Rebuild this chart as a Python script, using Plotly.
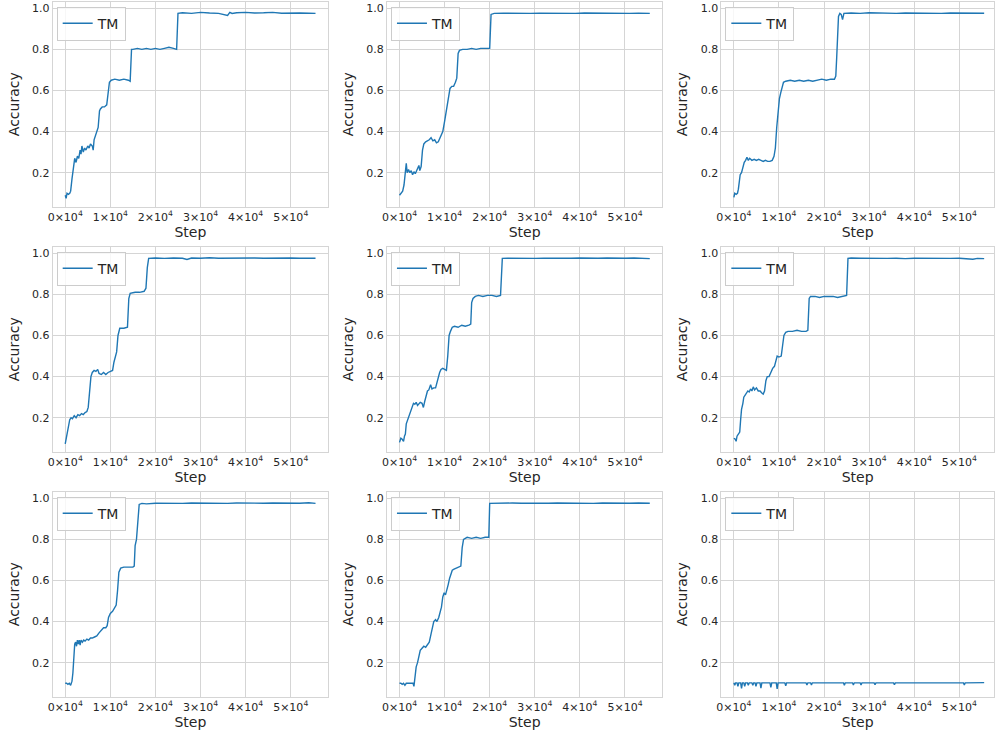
import plotly.graph_objects as go

# ---------------- data ----------------
series_name = "TM"
x_tick_vals = [0, 10000, 20000, 30000, 40000, 50000]
x_tick_text = ["0×10<sup>4</sup>", "1×10<sup>4</sup>", "2×10<sup>4</sup>",
               "3×10<sup>4</sup>", "4×10<sup>4</sup>", "5×10<sup>4</sup>"]
y_tick_vals = [0.2, 0.4, 0.6, 0.8, 1.0]
x_title = "Step"
y_title = "Accuracy"

run1 = [(0, 0.09), (200, 0.075), (400, 0.10), (700, 0.095), (1000, 0.10), (1200, 0.11), (1500, 0.17),
        (1800, 0.22), (2100, 0.27), (2400, 0.25), (2700, 0.28), (3000, 0.27), (3300, 0.31), (3500, 0.29),
        (3700, 0.33), (4000, 0.30), (4300, 0.32), (4600, 0.31), (5000, 0.33), (5300, 0.32), (5600, 0.34),
        (6000, 0.33), (6200, 0.31), (6400, 0.36), (6700, 0.38), (7000, 0.41), (7300, 0.42), (7600, 0.50),
        (7800, 0.51), (8200, 0.52), (8700, 0.52), (9200, 0.53), (9500, 0.58), (9800, 0.64), (10200, 0.65),
        (11000, 0.655), (12000, 0.65), (13000, 0.655), (14000, 0.65), (14400, 0.645), (14700, 0.80),
        (15000, 0.80), (16000, 0.805), (17000, 0.80), (18000, 0.805), (19000, 0.80), (20000, 0.805),
        (21000, 0.80), (22000, 0.805), (23000, 0.81), (24000, 0.805), (24700, 0.80), (25000, 0.975),
        (26000, 0.978), (28000, 0.975), (30000, 0.98), (32000, 0.977), (34000, 0.975), (36000, 0.965),
        (36500, 0.98), (37000, 0.975), (38000, 0.978), (40000, 0.98), (42000, 0.977), (44000, 0.978),
        (46000, 0.98), (48000, 0.976), (50000, 0.978), (52000, 0.977), (54000, 0.976), (55500, 0.975)]

run2 = [(0, 0.09), (300, 0.10), (700, 0.11), (1000, 0.14), (1300, 0.20), (1500, 0.245), (1700, 0.20),
        (2000, 0.215), (2300, 0.20), (2600, 0.21), (2900, 0.19), (3200, 0.205), (3500, 0.195), (3800, 0.21),
        (4100, 0.22), (4300, 0.235), (4500, 0.21), (4800, 0.23), (5100, 0.31), (5400, 0.34), (5800, 0.35),
        (6200, 0.355), (6600, 0.36), (7000, 0.37), (7400, 0.355), (7800, 0.36), (8200, 0.345), (8600, 0.35),
        (9000, 0.37), (9300, 0.39), (9600, 0.40), (10000, 0.45), (10400, 0.50), (10800, 0.56), (11200, 0.61),
        (11600, 0.62), (12000, 0.62), (12400, 0.64), (12700, 0.66), (13000, 0.78), (13300, 0.795),
        (14000, 0.80), (15000, 0.80), (16000, 0.805), (17000, 0.80), (18000, 0.805), (19000, 0.805),
        (20000, 0.805), (20300, 0.97), (21000, 0.975), (23000, 0.976), (25000, 0.975), (27000, 0.977),
        (29000, 0.975), (31000, 0.976), (33000, 0.975), (35000, 0.977), (37000, 0.976), (39000, 0.975),
        (41000, 0.977), (43000, 0.976), (45000, 0.975), (47000, 0.977), (49000, 0.976), (51000, 0.975),
        (53000, 0.976), (55500, 0.975)]

run3 = [(0, 0.08), (200, 0.10), (500, 0.095), (800, 0.10), (1000, 0.12), (1200, 0.17), (1400, 0.19),
        (1700, 0.20), (2000, 0.23), (2300, 0.25), (2600, 0.26), (2900, 0.275), (3200, 0.26), (3500, 0.27),
        (4000, 0.26), (4500, 0.265), (5000, 0.26), (5500, 0.265), (6000, 0.26), (6500, 0.255), (7000, 0.26),
        (7500, 0.255), (8000, 0.255), (8500, 0.26), (8900, 0.28), (9200, 0.32), (9500, 0.42), (9800, 0.50),
        (10100, 0.56), (10400, 0.59), (10700, 0.62), (11000, 0.64), (11500, 0.645), (12500, 0.65),
        (13500, 0.645), (14500, 0.65), (15500, 0.645), (16500, 0.65), (17500, 0.645), (18500, 0.65),
        (19500, 0.655), (20500, 0.65), (21500, 0.655), (22300, 0.655), (22600, 0.67), (22800, 0.76),
        (23000, 0.85), (23200, 0.96), (23500, 0.975), (23800, 0.97), (24100, 0.945), (24400, 0.975),
        (26000, 0.977), (28000, 0.975), (30000, 0.978), (32000, 0.976), (34000, 0.977), (36000, 0.975),
        (38000, 0.977), (40000, 0.976), (42000, 0.977), (44000, 0.976), (46000, 0.975), (48000, 0.977),
        (50000, 0.976), (52000, 0.975), (54000, 0.977), (55500, 0.976)]

run4 = [(0, 0.073), (300, 0.11), (600, 0.15), (1000, 0.19), (1300, 0.20), (1600, 0.195), (2000, 0.21),
        (2400, 0.20), (2800, 0.215), (3200, 0.21), (3600, 0.22), (4000, 0.215), (4400, 0.225), (4800, 0.23),
        (5100, 0.25), (5400, 0.33), (5700, 0.40), (6000, 0.42), (6400, 0.43), (6800, 0.425), (7200, 0.435),
        (7500, 0.415), (8000, 0.41), (8500, 0.42), (9000, 0.41), (9500, 0.42), (10000, 0.425), (10500, 0.43),
        (10800, 0.47), (11100, 0.49), (11400, 0.52), (11700, 0.60), (12100, 0.635), (13000, 0.635),
        (13800, 0.64), (14100, 0.78), (14400, 0.805), (15500, 0.81), (16500, 0.81), (17500, 0.815),
        (17900, 0.83), (18200, 0.93), (18500, 0.975), (20000, 0.977), (22000, 0.975), (24000, 0.977),
        (26000, 0.976), (27000, 0.97), (28000, 0.977), (30000, 0.976), (32000, 0.978), (34000, 0.976),
        (36000, 0.977), (38000, 0.976), (40000, 0.978), (42000, 0.977), (44000, 0.976), (46000, 0.977),
        (48000, 0.976), (50000, 0.977), (52000, 0.976), (54000, 0.977), (55500, 0.976)]

run5 = [(0, 0.08), (300, 0.10), (600, 0.095), (900, 0.085), (1100, 0.11), (1300, 0.12), (1500, 0.17),
        (1800, 0.19), (2100, 0.21), (2500, 0.24), (2800, 0.26), (3100, 0.27), (3400, 0.265), (3700, 0.275),
        (4000, 0.26), (4300, 0.27), (4600, 0.275), (5000, 0.27), (5300, 0.25), (5600, 0.28), (5900, 0.30),
        (6200, 0.33), (6500, 0.335), (6900, 0.36), (7200, 0.34), (7600, 0.345), (8000, 0.345), (8300, 0.37),
        (8600, 0.40), (8900, 0.42), (9200, 0.435), (9600, 0.44), (10000, 0.435), (10400, 0.43), (10700, 0.50),
        (11000, 0.60), (11300, 0.62), (11700, 0.64), (12200, 0.645), (13000, 0.64), (13800, 0.65),
        (14600, 0.645), (15400, 0.65), (15800, 0.655), (16000, 0.76), (16300, 0.78), (16800, 0.79),
        (17500, 0.795), (18500, 0.79), (19500, 0.795), (20500, 0.795), (21500, 0.79), (22400, 0.795),
        (22600, 0.90), (22800, 0.975), (24000, 0.976), (26000, 0.975), (28000, 0.977), (30000, 0.975),
        (32000, 0.976), (34000, 0.975), (36000, 0.977), (38000, 0.976), (40000, 0.977), (42000, 0.975),
        (44000, 0.976), (46000, 0.977), (48000, 0.975), (50000, 0.976), (52000, 0.977), (54000, 0.975),
        (55500, 0.974)]

run6 = [(0, 0.10), (300, 0.095), (500, 0.085), (700, 0.11), (1000, 0.12), (1300, 0.13), (1500, 0.19),
        (1700, 0.24), (2000, 0.27), (2200, 0.30), (2500, 0.31), (2800, 0.32), (3100, 0.33), (3400, 0.325),
        (3700, 0.34), (4000, 0.33), (4300, 0.35), (4600, 0.335), (5000, 0.345), (5400, 0.33), (5800, 0.33),
        (6200, 0.32), (6500, 0.315), (6800, 0.33), (7100, 0.38), (7400, 0.40), (7800, 0.40), (8200, 0.42),
        (8600, 0.44), (9000, 0.45), (9300, 0.48), (9600, 0.50), (10000, 0.495), (10500, 0.50), (10800, 0.55),
        (11100, 0.60), (11500, 0.615), (12000, 0.62), (13000, 0.62), (14000, 0.625), (15000, 0.62),
        (16000, 0.62), (16400, 0.625), (16700, 0.78), (17000, 0.79), (18000, 0.79), (19000, 0.785),
        (20000, 0.79), (21000, 0.79), (22000, 0.79), (23000, 0.785), (24000, 0.79), (25000, 0.795),
        (25300, 0.975), (26000, 0.977), (28000, 0.976), (30000, 0.975), (32000, 0.976), (34000, 0.975),
        (36000, 0.976), (38000, 0.974), (40000, 0.976), (42000, 0.975), (44000, 0.977), (46000, 0.976),
        (48000, 0.975), (50000, 0.976), (52000, 0.975), (53000, 0.971), (54000, 0.975), (55500, 0.974)]

run7 = [(0, 0.10), (300, 0.10), (600, 0.095), (900, 0.10), (1200, 0.09), (1500, 0.11), (1700, 0.15),
        (1900, 0.22), (2100, 0.29), (2300, 0.30), (2500, 0.28), (2700, 0.31), (2900, 0.29), (3100, 0.31),
        (3300, 0.285), (3500, 0.31), (3800, 0.30), (4100, 0.31), (4400, 0.305), (4800, 0.315), (5200, 0.31),
        (5600, 0.32), (6000, 0.32), (6500, 0.325), (7000, 0.33), (7500, 0.345), (8000, 0.36), (8500, 0.37),
        (9000, 0.37), (9300, 0.38), (9600, 0.42), (10000, 0.44), (10500, 0.45), (11000, 0.47), (11300, 0.48),
        (11600, 0.55), (11900, 0.64), (12300, 0.66), (13000, 0.665), (14000, 0.665), (15000, 0.665),
        (15300, 0.67), (15500, 0.77), (15800, 0.80), (16100, 0.90), (16400, 0.97), (17000, 0.975),
        (18000, 0.973), (20000, 0.976), (22000, 0.975), (24000, 0.976), (26000, 0.975), (28000, 0.977),
        (30000, 0.976), (32000, 0.977), (34000, 0.976), (36000, 0.975), (38000, 0.977), (40000, 0.976),
        (42000, 0.977), (44000, 0.976), (46000, 0.977), (48000, 0.976), (50000, 0.977), (52000, 0.976),
        (54000, 0.978), (55500, 0.975)]

run8 = [(0, 0.10), (300, 0.10), (600, 0.095), (900, 0.10), (1200, 0.09), (1500, 0.10), (2000, 0.10),
        (2500, 0.10), (3000, 0.10), (3200, 0.085), (3400, 0.12), (3700, 0.18), (4000, 0.20), (4300, 0.23),
        (4600, 0.26), (5000, 0.27), (5400, 0.28), (5800, 0.275), (6200, 0.29), (6600, 0.30), (7000, 0.34),
        (7300, 0.38), (7600, 0.40), (8000, 0.41), (8300, 0.40), (8700, 0.42), (9000, 0.44), (9300, 0.47),
        (9600, 0.52), (9900, 0.54), (10200, 0.53), (10500, 0.55), (10800, 0.58), (11100, 0.61), (11400, 0.63),
        (11700, 0.65), (12100, 0.655), (12600, 0.66), (13200, 0.665), (13600, 0.67), (13900, 0.76),
        (14200, 0.80), (15000, 0.81), (16000, 0.805), (17000, 0.81), (18000, 0.805), (19000, 0.81),
        (19800, 0.81), (20000, 0.975), (21000, 0.976), (23000, 0.975), (25000, 0.977), (27000, 0.976),
        (29000, 0.975), (31000, 0.977), (33000, 0.976), (35000, 0.977), (37000, 0.976), (39000, 0.977),
        (41000, 0.976), (43000, 0.975), (45000, 0.977), (47000, 0.976), (49000, 0.977), (51000, 0.976),
        (53000, 0.977), (55500, 0.976)]

run9 = [(0, 0.102), (200, 0.09), (400, 0.102), (700, 0.102), (900, 0.085), (1100, 0.102), (1500, 0.102),
        (1700, 0.075), (1900, 0.102), (2200, 0.102), (2400, 0.085), (2600, 0.102), (3000, 0.102),
        (3200, 0.09), (3400, 0.102), (4000, 0.102), (4200, 0.09), (4400, 0.102), (4700, 0.102),
        (4900, 0.085), (5100, 0.102), (5800, 0.102), (6000, 0.076), (6200, 0.102), (8000, 0.102),
        (8200, 0.08), (8400, 0.102), (9400, 0.102), (9600, 0.072), (9800, 0.102), (11300, 0.102),
        (11500, 0.088), (11700, 0.102), (16000, 0.102), (16200, 0.092), (16400, 0.102), (17000, 0.102),
        (17200, 0.092), (17400, 0.102), (24300, 0.102), (24500, 0.09), (24700, 0.102), (26300, 0.102),
        (26500, 0.092), (26700, 0.102), (28000, 0.102), (28200, 0.092), (28400, 0.102), (31100, 0.102),
        (31300, 0.093), (31500, 0.102), (35400, 0.102), (35600, 0.093), (35800, 0.102), (50900, 0.102),
        (51100, 0.092), (51300, 0.102), (55500, 0.103)]

runs = [run1, run2, run3, run4, run5, run6, run7, run8, run9]

# ---------------- layout geometry (pixels) ----------------
W, H = 995, 736
col_px = [(48.0, 325.0), (384.3, 661.3), (720.7, 995.0)]
row_px = [(1.7, 206.7), (246.7, 451.7), (491.7, 696.7)]
X_LEFT = -2775.0
STEPS_PER_PX = 61050.0 / 277.0
Y_RANGE = [0.0345, 1.032]

LINE_COLOR = "#1f77b4"
GRID = "#d5d5d5"
TEXT = "#262626"
FONT = "DejaVu Sans"

fig = go.Figure()
layout = dict(
    width=W, height=H,
    margin=dict(l=0, r=0, t=0, b=0),
    paper_bgcolor="white", plot_bgcolor="white",
    font=dict(family=FONT, color=TEXT, size=11),
    showlegend=True,
)

for i, run in enumerate(runs):
    r, c = divmod(i, 3)
    n = "" if i == 0 else str(i + 1)
    x0, x1 = col_px[c]
    y0, y1 = row_px[r]
    leg = "legend" + n
    fig.add_trace(go.Scatter(
        x=[p[0] for p in run], y=[p[1] for p in run],
        mode="lines", name=series_name,
        line=dict(color=LINE_COLOR, width=1.4),
        xaxis="x" + n, yaxis="y" + n, legend=leg,
    ))
    layout["xaxis" + n] = dict(
        domain=[x0 / W, x1 / W], anchor="y" + n,
        range=[X_LEFT, X_LEFT + (x1 - x0) * STEPS_PER_PX],
        tickvals=x_tick_vals, ticktext=x_tick_text,
        tickfont=dict(size=11, color=TEXT),
        showgrid=True, gridcolor=GRID, gridwidth=1,
        showline=True, linecolor=GRID, linewidth=1, mirror=True,
        zeroline=False, ticks="",
        title=dict(text=x_title, font=dict(size=14, color=TEXT), standoff=3),
    )
    layout["yaxis" + n] = dict(
        domain=[1 - y1 / H, 1 - y0 / H], anchor="x" + n,
        range=Y_RANGE,
        tickvals=y_tick_vals, tickformat=".1f",
        tickfont=dict(size=11, color=TEXT),
        showgrid=True, gridcolor=GRID, gridwidth=1,
        showline=True, linecolor=GRID, linewidth=1, mirror=True,
        zeroline=False, ticks="",
        title=dict(text=y_title, font=dict(size=14, color=TEXT), standoff=9),
    )
    layout[leg] = dict(
        x=(x0 + 4) / W, y=1 - (y0 + 5) / H, xanchor="left", yanchor="top",
        bgcolor="rgba(255,255,255,0.8)", bordercolor="#cccccc", borderwidth=1,
        font=dict(size=14, color=TEXT, family=FONT),
    )

fig.update_layout(**layout)
fig.write_html("out.html", config={"displayModeBar": False},
               post_script="document.body.style.margin='0';")
